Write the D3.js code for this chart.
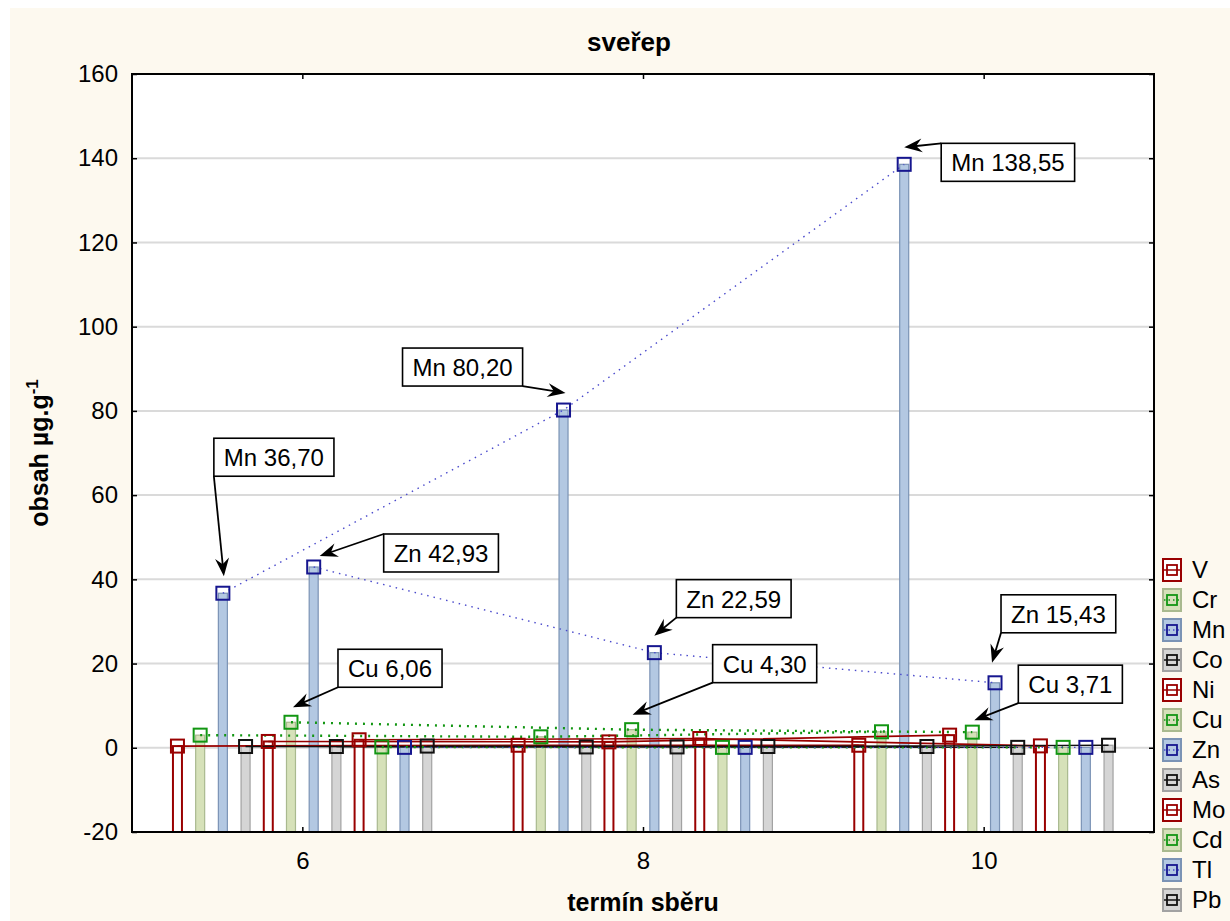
<!DOCTYPE html>
<html>
<head>
<meta charset="utf-8">
<script src="https://cdn.jsdelivr.net/npm/d3@7"></script>
<style>
  body { margin: 0; background: #fff; }
  text { font-family: "Liberation Sans", Arial, sans-serif; }
</style>
</head>
<body>
<div id="chart"></div>
<script>
// collection dates (x categories)
const groups = [6, 8, 10]
const elements = ["V", "Cr", "Mn", "Co", "Ni", "Cu", "Zn", "As", "Mo", "Cd", "Tl", "Pb"]

// content per element, one value for each date
const V  = [0.4, 0.6, 0.6]
const Cr = [3.0, 2.6, 3.8]
const Mn = [36.70, 80.20, 138.55]
const Co = [0.3, 0.2, 0.3]
const Ni = [1.5, 1.4, 3.0]
const Cu = [6.06, 4.30, 3.71]
const Zn = [42.93, 22.59, 15.43]
const As = [0.3, 0.2, 0.1]
const Mo = [1.9, 2.2, 0.45]
const Cd = [0.2, 0.1, 0.1]
const Tl = [0.1, 0.1, 0.1]
const Pb = [0.4, 0.3, 0.6]
const values = [V, Cr, Mn, Co, Ni, Cu, Zn, As, Mo, Cd, Tl, Pb]

const yTicks = [-20, 0, 20, 40, 60, 80, 100, 120, 140, 160]

// labelled points
const notes = [
  { el: "Mn", g: 0, text: "Mn 36,70", bx: -9, by: -155, corner: "bl", ex: 1, ey: -17 },
  { el: "Zn", g: 0, text: "Zn 42,93", bx: 70, by: -33, corner: "tl", ex: 6, ey: -11 },
  { el: "Mn", g: 1, text: "Mn 80,20", bx: -161, by: -62, corner: "br", ex: 2, ey: -17 },
  { el: "Mn", g: 2, text: "Mn 138,55", bx: 37, by: -21, corner: "tl", ex: 0, ey: -17 },
  { el: "Zn", g: 1, text: "Zn 22,59", bx: 22, by: -73, corner: "bl", ex: 0, ey: -17 },
  { el: "Zn", g: 2, text: "Zn 15,43", bx: 6, by: -88, corner: "bl", ex: -3, ey: -20 },
  { el: "Cu", g: 0, text: "Cu 6,06", bx: 47, by: -73, corner: "bl", ex: 2, ey: -15 },
  { el: "Cu", g: 1, text: "Cu 4,30", bx: 81, by: -85, corner: "bl", ex: 1, ey: -15 },
  { el: "Cu", g: 2, text: "Cu 3,71", bx: 46, by: -67, corner: "bl", ex: 2, ey: -12 }
]

// styles repeat every 4 elements: red, green, blue, gray
const styles = [
  { fill: "#ffffff", stroke: "#990000", sw: 2, mark: "#990000", line: "#990000", lw: 1.6, dash: null },
  { fill: "#d6e1b9", stroke: "#a9b98f", sw: 1.2, mark: "#129612", line: "#129612", lw: 2.4, dash: "2,6" },
  { fill: "#b3c8e2", stroke: "#7b93b5", sw: 1.2, mark: "#16168f", line: "#4a4acc", lw: 1.4, dash: "1.5,5" },
  { fill: "#d5d5d5", stroke: "#a2a2a2", sw: 1.2, mark: "#111111", line: "#111111", lw: 1.3, dash: null }
]

const W = 1230, H = 921
const margin = { left: 132, right: 76, top: 74, bottom: 89 }
const pw = W - margin.left - margin.right
const ph = H - margin.top - margin.bottom

const x = d3.scaleLinear().domain([5, 11]).range([0, pw])
const y = d3.scaleLinear().domain([-20, 160]).range([ph, 0])
const step = 0.1333
const barW = 9
const xPos = (gi, si) => x(groups[gi] + (si - 5.5) * step)

const svg = d3.select("#chart").append("svg").attr("width", W).attr("height", H)
svg.append("rect").attr("x", 10).attr("y", 8).attr("width", W - 10).attr("height", H - 8).attr("fill", "#fdf9ef")

svg.append("text").attr("x", 629).attr("y", 51).attr("text-anchor", "middle")
  .style("font-size", "26px").style("font-weight", "bold").text("sveřep")

const g = svg.append("g").attr("transform", "translate(" + margin.left + "," + margin.top + ")")
g.append("rect").attr("width", pw).attr("height", ph).attr("fill", "#fff")

// grid
g.append("g").selectAll("line").data(yTicks.slice(1, -1)).enter().append("line")
  .attr("x1", 0).attr("x2", pw).attr("y1", d => y(d)).attr("y2", d => y(d))
  .attr("stroke", "#dadada").attr("stroke-width", 2)

// bars
elements.forEach((el, si) => {
  const st = styles[si % 4]
  g.selectAll(".bar" + el).data(values[si]).enter().append("rect")
    .attr("x", (d, gi) => xPos(gi, si) - barW / 2)
    .attr("y", d => y(d))
    .attr("width", barW)
    .attr("height", d => y(-20) - y(d))
    .attr("fill", st.fill).attr("stroke", st.stroke).attr("stroke-width", st.sw)
})

// lines
elements.forEach((el, si) => {
  const st = styles[si % 4]
  const line = d3.line().x((d, gi) => xPos(gi, si)).y(d => y(d))
  g.append("path").datum(values[si]).attr("d", line).attr("fill", "none")
    .attr("stroke", st.line).attr("stroke-width", st.lw)
    .attr("stroke-dasharray", st.dash)
})

// markers
elements.forEach((el, si) => {
  const st = styles[si % 4]
  g.selectAll(".mk" + el).data(values[si]).enter().append("rect")
    .attr("x", (d, gi) => xPos(gi, si) - 6.5)
    .attr("y", d => y(d) - 6.5)
    .attr("width", 13).attr("height", 13)
    .attr("fill", "none").attr("stroke", st.mark).attr("stroke-width", 2)
})

// axes
const fmt = d => String(d)
const yAxis = g.append("g").call(d3.axisLeft(y).tickValues(yTicks).tickSize(-5).tickPadding(14).tickFormat(fmt))
const yAxisR = g.append("g").attr("transform", "translate(" + pw + ",0)")
  .call(d3.axisRight(y).tickValues(yTicks).tickSize(-5).tickFormat(""))
const xAxis = g.append("g").attr("transform", "translate(0," + ph + ")")
  .call(d3.axisBottom(x).tickValues(groups).tickSize(-5).tickPadding(20).tickFormat(fmt))
const xAxisT = g.append("g").call(d3.axisTop(x).tickValues(groups).tickSize(-5).tickFormat(""))
;[yAxis, yAxisR, xAxis, xAxisT].forEach(a => {
  a.select(".domain").remove()
  a.selectAll("line").attr("stroke", "#000").attr("stroke-width", 1.5)
  a.selectAll("text").style("font-size", "24px").attr("fill", "#000")
    .style("font-family", "Liberation Sans, Arial, sans-serif")
})
g.append("rect").attr("width", pw).attr("height", ph).attr("fill", "none")
  .attr("stroke", "#000").attr("stroke-width", 2)

// axis titles
svg.append("text").attr("x", margin.left + pw / 2).attr("y", 911).attr("text-anchor", "middle")
  .style("font-size", "25px").style("font-weight", "bold").text("termín sběru")
const yt = svg.append("text").attr("transform", "translate(48," + (margin.top + ph / 2) + ") rotate(-90)")
  .attr("text-anchor", "middle").style("font-size", "25px").style("font-weight", "bold")
yt.append("tspan").text("obsah µg.g")
yt.append("tspan").attr("dy", -10).style("font-size", "17px").text("-1")

// annotations
const ann = g.append("g")
notes.forEach(n => {
  const si = elements.indexOf(n.el)
  const px = xPos(n.g, si), py = y(values[si][n.g])
  const bx = px + n.bx, by = py + n.by
  const box = ann.append("g")
  const r = box.append("rect").attr("x", bx).attr("y", by).attr("height", 38)
    .attr("fill", "#fff").attr("stroke", "#000").attr("stroke-width", 1.6)
  const t = box.append("text").attr("x", bx + 10).attr("y", by + 28).style("font-size", "24px").text(n.text)
  const bw = t.node().getComputedTextLength() + 20
  r.attr("width", bw)
  const sx = n.corner.includes("r") ? bx + bw : bx
  const sy = n.corner.includes("b") ? by + 38 : by
  const exx = px + n.ex, eyy = py + n.ey
  const ang = Math.atan2(eyy - sy, exx - sx)
  const c = Math.cos(ang), s = Math.sin(ang)
  const pt = (a, b) => [exx - a * c + b * s, eyy - a * s - b * c]
  ann.append("line").attr("x1", sx).attr("y1", sy)
    .attr("x2", pt(10, 0)[0]).attr("y2", pt(10, 0)[1]).attr("stroke", "#000").attr("stroke-width", 1.8)
  ann.append("path")
    .attr("d", "M" + [exx, eyy] + "L" + pt(18, 7) + "L" + pt(12, 0) + "L" + pt(18, -7) + "Z")
    .attr("fill", "#000")
})

// legend
const leg = svg.append("g").attr("transform", "translate(1163,570)")
elements.forEach((el, si) => {
  const st = styles[si % 4]
  const li = leg.append("g").attr("transform", "translate(0," + si * 30 + ")")
  li.append("rect").attr("x", 0).attr("y", -11).attr("width", 18).attr("height", 22)
    .attr("fill", st.fill).attr("stroke", st.stroke).attr("stroke-width", 2)
  li.append("line").attr("x1", 1).attr("x2", 17).attr("y1", 0).attr("y2", 0)
    .attr("stroke", st.line).attr("stroke-width", 1.5).attr("stroke-dasharray", st.dash ? "1.5,3" : null)
  li.append("rect").attr("x", 4).attr("y", -5).attr("width", 10).attr("height", 10)
    .attr("fill", "none").attr("stroke", st.mark).attr("stroke-width", 1.8)
  li.append("text").attr("x", 29).attr("y", 8).style("font-size", "24px").text(el)
})
</script>
</body>
</html>
